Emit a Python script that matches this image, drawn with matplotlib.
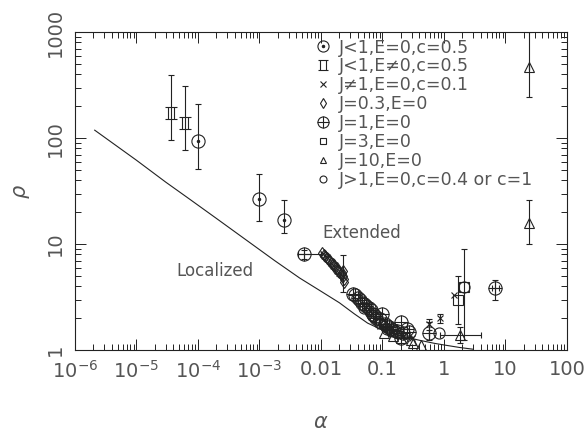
import numpy as np
import matplotlib
matplotlib.use("Agg")
import matplotlib.pyplot as plt
from matplotlib.path import Path

plt.rcParams['font.family'] = ['DejaVu Sans']
plt.rcParams['mathtext.fontset'] = 'dejavusans'

INK = '#222222'
TXT = '#555555'

# --- data ------------------------------------------------------------
# boundary curve
curve_a = [2.1e-6, 1e-5, 3e-5, 7.4e-5, 2e-4, 6.9e-4, 1.77e-3, 4.5e-3, 0.01, 0.02, 0.035,
           0.0575, 0.1, 0.2, 0.4, 0.7, 1.0, 1.8, 3.0]
curve_r = [119, 62, 38.5, 26.5, 17.5, 10.4, 7.0, 4.8, 3.6, 2.8, 2.2,
           1.8, 1.55, 1.36, 1.24, 1.16, 1.12, 1.06, 1.02]

# J<1, E=0, c=0.5  (circle with dot)
cd_a = [1e-4, 1e-3, 2.5e-3]
cd_r = [94, 26.6, 16.8]
cd_lo = [51, 16.7, 12.7]
cd_hi = [208, 46, 26]

# J<1, E!=0, c=0.5
bt_a = [3.6e-5, 6.1e-5]
bt_r = [173, 138]
bt_lo = [96, 77]
bt_hi = [393, 312]

# J!=1, E=0, c=0.1  (crosses)
x_a = [0.0108, 0.0125, 0.0145, 0.017, 0.02, 0.023, 0.09, 0.12, 0.16, 0.22, 0.3, 1.45]
x_r = [8.1, 7.5, 6.7, 6.1, 5.4, 4.9, 1.7, 1.6, 1.45, 1.35, 1.3, 3.3]
xe_a = [0.57, 0.86]
xe_r = [1.75, 1.99]
xe_lo = [1.55, 1.8]
xe_hi = [1.95, 2.2]

# J=0.3, E=0  (diamonds)
d_a = [0.0105, 0.0112, 0.0118, 0.0125, 0.0132, 0.014, 0.0148, 0.0155, 0.0163, 0.017,
       0.018, 0.019, 0.02, 0.021, 0.022, 0.023, 0.0235, 0.024, 0.06, 0.08, 0.1, 0.13]
d_r = [8.3, 7.9, 7.8, 7.4, 7.2, 7.0, 6.7, 6.5, 6.3, 6.0,
       5.9, 5.6, 5.5, 5.2, 5.3, 5.0, 4.7, 4.4, 2.2, 1.9, 1.75, 1.55]
de_a = [0.0227]
de_r = [5.6]
de_lo = [3.55]
de_hi = [7.9]

# J=1, E=0  (circle with plus)
op_a = [0.033, 0.036, 0.04, 0.043, 0.047, 0.05, 0.055, 0.06, 0.065, 0.07, 0.075,
        0.08, 0.09, 0.1, 0.11, 0.12, 0.13, 0.14, 0.15, 0.17, 0.2, 0.22, 0.25, 0.27, 0.2]
op_r = [3.4, 3.3, 3.1, 3.0, 2.8, 2.7, 2.6, 2.5, 2.4, 2.2, 2.1,
        2.0, 1.95, 2.2, 1.75, 1.7, 1.65, 1.6, 1.55, 1.5, 1.85, 1.45, 1.6, 1.49, 1.29]
ope_a = [5.4e-3, 0.58, 6.8]
ope_r = [8.0, 1.46, 3.82]
ope_lo = [7.2, 1.24, 2.96]
ope_hi = [8.9, 1.85, 4.64]
ope_xlo = [4.2e-3, 0.58, 6.0]
ope_xhi = [0.0101, 0.58, 7.8]

# J=3, E=0  (squares)
sq_a = [1.67, 2.14]
sq_r = [3.0, 3.96]
sq_lo = [1.78, 1.24]
sq_hi = [5.0, 9.1]

# J=10, E=0  (triangles)
tr_a = [0.107, 0.15, 0.2, 0.29, 0.31, 0.42]
tr_r = [1.44, 1.35, 1.3, 1.24, 1.16, 1.11]
tre_a = [1.85, 24.3, 24.5]
tre_r = [1.39, 15.9, 471]
tre_lo = [1.16, 10.1, 245]
tre_hi = [1.66, 26, 1000]
tre_xlo = [0.85, 24.3, 24.5]
tre_xhi = [4.0, 24.3, 24.5]

# J>1, E=0, c=0.4 or c=1  (open circles)
oc_a = [0.05, 0.07, 0.09, 0.12, 0.16, 0.82, 2.14]
oc_r = [2.5, 2.1, 1.8, 1.6, 1.5, 1.44, 3.96]

legend_labels = ['J<1,E=0,c=0.5', 'J<1,E\u22600,c=0.5', 'J\u22601,E=0,c=0.1', 'J=0.3,E=0',
                 'J=1,E=0', 'J=3,E=0', 'J=10,E=0', 'J>1,E=0,c=0.4 or c=1']

xticks = [1e-6, 1e-5, 1e-4, 1e-3, 1e-2, 1e-1, 1, 10, 100]
xticklabels = ['$10^{-6}$', '$10^{-5}$', '$10^{-4}$', '$10^{-3}$', '0.01', '0.1', '1', '10', '100']
yticks = [1, 10, 100, 1000]
yticklabels = ['1', '10', '100', '1000']

# --- marker for J<1, E!=0 -------------------------------------------
bowtie = Path([(-1, 1), (1, 1), (-1, -1), (1, -1), (-0.6, 1), (-0.6, -1), (0.6, 1), (0.6, -1)],
              [Path.MOVETO, Path.LINETO] * 4)

fig = plt.figure(figsize=(5.85, 4.41), dpi=100)
ax = fig.add_axes([0.128, 0.206, 0.841, 0.721])
ax.set_xscale('log')
ax.set_yscale('log')

ax.plot(curve_a, curve_r, color=INK, lw=0.8)

ekw = dict(fmt='none', ecolor=INK, elinewidth=0.8, capsize=2, capthick=0.8)
mk = dict(ls='none', color=INK, mfc='none', mew=0.8)


def yerr(v, lo, hi):
    v = np.array(v)
    return [v - np.array(lo), np.array(hi) - v]


# error bars
ax.errorbar(cd_a, cd_r, yerr=yerr(cd_r, cd_lo, cd_hi), **ekw)
ax.errorbar(bt_a, bt_r, yerr=yerr(bt_r, bt_lo, bt_hi), **ekw)
ax.errorbar(xe_a, xe_r, yerr=yerr(xe_r, xe_lo, xe_hi), **ekw)
ax.errorbar(de_a, de_r, yerr=yerr(de_r, de_lo, de_hi), **ekw)
ax.errorbar(ope_a, ope_r, yerr=yerr(ope_r, ope_lo, ope_hi), xerr=yerr(ope_a, ope_xlo, ope_xhi), **ekw)
ax.errorbar(sq_a, sq_r, yerr=yerr(sq_r, sq_lo, sq_hi), **ekw)
ax.errorbar(tre_a, tre_r, yerr=yerr(tre_r, tre_lo, tre_hi), xerr=yerr(tre_a, tre_xlo, tre_xhi), **ekw)

# markers
ax.plot(cd_a, cd_r, marker='o', ms=9.5, **mk)
ax.plot(cd_a, cd_r, marker='.', ms=3, ls='none', color=INK)
ax.plot(bt_a, bt_r, marker=bowtie, ms=8, **mk)
ax.plot(x_a + xe_a, x_r + xe_r, marker='x', ms=5, **mk)
ax.plot(d_a + de_a, d_r + de_r, marker='d', ms=6, **mk)
ax.plot(op_a + ope_a, op_r + ope_r, marker='o', ms=9.5, **mk)
ax.plot(op_a + ope_a, op_r + ope_r, marker='+', ms=9.5, **mk)
ax.plot(sq_a, sq_r, marker='s', ms=7, **mk)
ax.plot(tr_a + tre_a, tr_r + tre_r, marker='^', ms=7, **mk)
ax.plot(oc_a, oc_r, marker='o', ms=8, **mk)

# legend handles (smaller markers as in the picture)
lh = [
    (ax.plot([], [], marker='o', ms=8, **mk)[0], ax.plot([], [], marker='.', ms=3, ls='none', color=INK)[0]),
    ax.plot([], [], marker=bowtie, ms=7, **mk)[0],
    ax.plot([], [], marker='x', ms=4, **mk)[0],
    ax.plot([], [], marker='d', ms=5, **mk)[0],
    (ax.plot([], [], marker='o', ms=8, **mk)[0], ax.plot([], [], marker='+', ms=8, **mk)[0]),
    ax.plot([], [], marker='s', ms=5, **mk)[0],
    ax.plot([], [], marker='^', ms=5, **mk)[0],
    ax.plot([], [], marker='o', ms=5, **mk)[0],
]
leg = ax.legend(lh, legend_labels, loc='upper left', bbox_to_anchor=(0.488, 0.98),
                frameon=False, fontsize=12.5, handlelength=0.9, handletextpad=0.45,
                labelspacing=0.05, borderpad=0, borderaxespad=0)
for t in leg.get_texts():
    t.set_color(TXT)

ax.text(0.583, 0.37, 'Extended', transform=ax.transAxes, fontsize=12, color=TXT, ha='center', va='center')
ax.text(0.285, 0.25, 'Localized', transform=ax.transAxes, fontsize=12, color=TXT, ha='center', va='center')

ax.set_xlim(1e-6, 100)
ax.set_ylim(1, 1000)
ax.set_xticks(xticks)
ax.set_xticklabels(xticklabels, fontsize=14, color=TXT)
ax.set_yticks(yticks)
ax.set_yticklabels(yticklabels, fontsize=14, color=TXT, rotation=90, va='center')
ax.tick_params(which='both', direction='in', top=True, right=True, color=INK, width=0.7)
ax.tick_params(which='major', length=8, pad=7)
ax.tick_params(which='minor', length=4)
for s in ax.spines.values():
    s.set_linewidth(0.8)
    s.set_color(INK)

ax.set_xlabel(r'$\alpha$', fontsize=15, color=TXT, labelpad=22)
ax.set_ylabel(r'$\rho$', fontsize=15, color=TXT, labelpad=10)

fig.savefig('out.png', dpi=100)
